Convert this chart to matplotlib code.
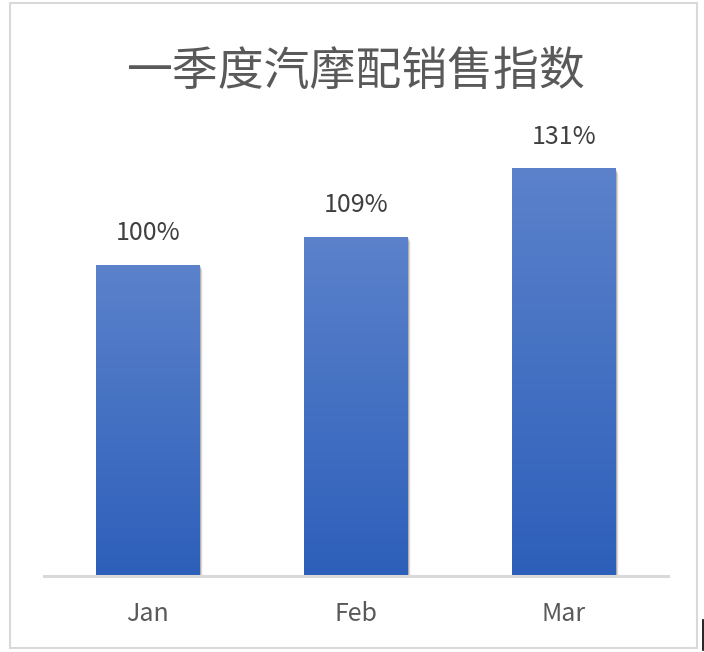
import numpy as np
import matplotlib
matplotlib.use("Agg")
import matplotlib.pyplot as plt
from matplotlib.patches import Rectangle
from matplotlib.lines import Line2D
from matplotlib.colors import LinearSegmentedColormap

plt.rcParams['font.family'] = ['Noto Sans CJK SC', 'DejaVu Sans']

title = "一季度汽摩配销售指数"
categories = ["Jan", "Feb", "Mar"]
values = [100, 109, 131]

W, H = 704, 652
fig = plt.figure(figsize=(W / 100, H / 100), dpi=100)
fig.patch.set_facecolor("white")

ax = fig.add_axes([44 / W, 76 / H, 624 / W, 435 / H])
ax.set_xlim(-0.5, 2.5)
ax.set_ylim(0, 140)

cmap = LinearSegmentedColormap.from_list("g", ["#2d5fba", "#5b82cb"])
grad = np.linspace(0, 1, 256).reshape(-1, 1)
bw = 0.5
px_x = 1 / 208
px_y = 1 / 3.11
x = np.arange(len(categories))
for xi, v in zip(x, values):
    # soft shadow
    for k, a in zip([5, 4, 3, 2, 1], [0.03, 0.05, 0.07, 0.09, 0.11]):
        ax.add_patch(Rectangle((xi - bw / 2 + k * px_x * 0.6, -k * px_y), bw, v,
                               facecolor="black", alpha=a, edgecolor="none", zorder=1))
    ax.imshow(grad, extent=(xi - bw / 2, xi + bw / 2, 0, v), origin="lower",
              cmap=cmap, aspect="auto", zorder=2)
    ax.annotate(f"{v}%", (xi, v), xytext=(0, 23), textcoords="offset points",
                ha="center", va="center", fontsize=18, color="#404040")

ax.set_xlim(-0.5, 2.5)
ax.set_ylim(0, 140)
ax.set_xticks(x)
ax.set_xticklabels(categories, fontsize=18, color="#595959")
ax.tick_params(axis="x", length=0, pad=18)
ax.set_yticks([])
for s in ["top", "left", "right"]:
    ax.spines[s].set_visible(False)
ax.spines["bottom"].set_color("#d9d9d9")
ax.spines["bottom"].set_linewidth(2.2)
ax.spines["bottom"].set_zorder(3)

fig.text(356 / W, 1 - 72 / H, title, ha="center", va="center",
         fontsize=33, color="#595959")

# chart border
fig.patches.append(Rectangle((10 / W, 1 - 648 / H), 687 / W, 645 / H,
                             transform=fig.transFigure, fill=False,
                             edgecolor="#d9d9d9", linewidth=1.5))
fig.lines.append(Line2D([703 / W, 703 / W], [1 - 650 / H, 1 - 620 / H],
                        transform=fig.transFigure, color="black", linewidth=1.2))

fig.savefig("out.png", dpi=100)
